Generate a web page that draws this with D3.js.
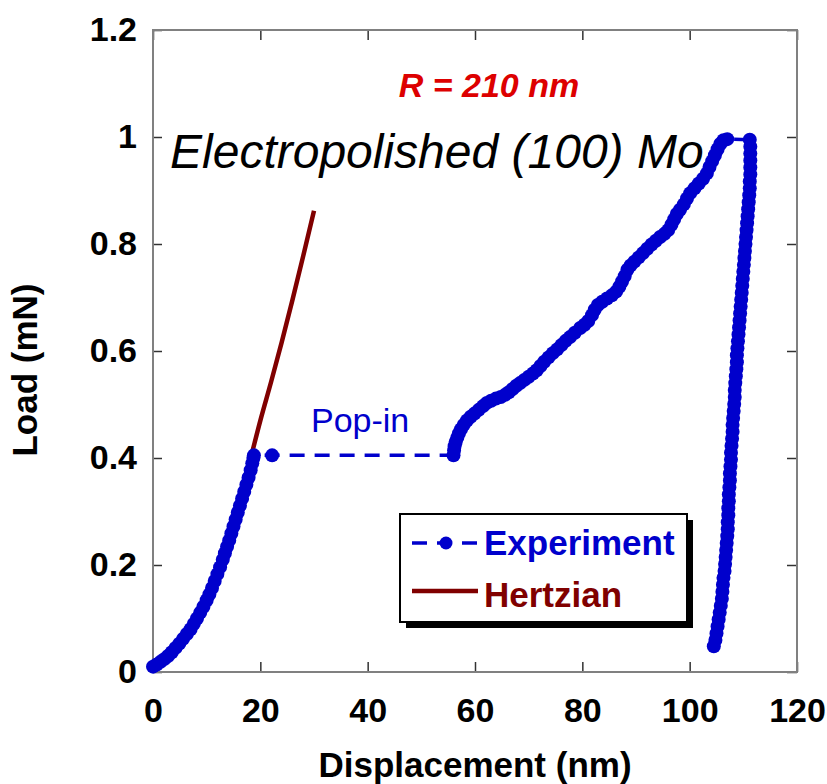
<!DOCTYPE html>
<html>
<head>
<meta charset="utf-8">
<script src="https://cdn.jsdelivr.net/npm/d3@7"></script>
<style>
  body { margin: 0; background: #fff; }
  text { font-family: "Liberation Sans", Arial, sans-serif; }
</style>
</head>
<body>
<div id="chart"></div>
<script>
// Experiment: loading, pop-in, loading, hold, unloading (nm, mN)
var expDisp = [
  0, 0.7, 1.4, 2.1, 2.8, 3.5, 4.2, 4.9, 5.6, 6.3, 7.0, 7.6, 8.2, 8.8, 9.4, 10.0, 10.5, 11.0, 11.5, 12.0,
  12.5, 13.0, 13.4, 13.8, 14.2, 14.6, 15.0, 15.4, 15.8, 16.2, 16.6, 17.0, 17.4, 17.8, 18.2, 18.5, 18.7, 18.8,
  22.2,
  56.0, 56.1, 56.2, 56.4, 56.7, 57.0, 57.4, 57.9, 58.5, 59.2, 59.9, 60.7, 61.5, 62.2, 63.0, 63.9, 64.8, 65.6,
  66.3, 67.0, 67.7, 68.4, 69.2, 70.0, 70.8, 71.5, 72.2, 72.9, 73.7, 74.5, 75.3, 76.1, 76.9, 77.7, 78.6, 79.6,
  80.4, 81.1, 81.8, 82.3, 82.9, 83.7, 84.6, 85.5, 86.3, 86.9, 87.4, 87.9, 88.4, 89.0, 89.7, 90.5, 91.3, 92.1,
  92.9, 93.7, 94.5, 95.3, 96.0, 96.6, 97.1, 97.6, 98.2, 98.9, 99.5, 100.1, 100.9, 101.7, 102.5, 103.2, 103.7,
  104.2, 104.7, 105.2, 105.7, 106.3, 107.0,
  111.2,
  111.3, 111.3, 111.3, 111.3, 111.3, 111.2, 111.2, 111.1, 111.0, 110.9, 110.8, 110.7, 110.6, 110.5, 110.4,
  110.3, 110.2, 110.1, 110.0, 109.9, 109.8, 109.7, 109.6, 109.5, 109.4, 109.3, 109.2, 109.1, 109.0, 108.9,
  108.8, 108.8, 108.7, 108.6, 108.5, 108.4, 108.4, 108.3, 108.2, 108.1, 108.0, 108.0, 107.9, 107.8, 107.7,
  107.7, 107.6, 107.5, 107.5, 107.4, 107.3, 107.3, 107.2, 107.2, 107.1, 107.1, 107.0, 106.9, 106.8, 106.7,
  106.6, 106.5, 106.3, 106.2, 106.1, 106.0, 105.8, 105.6, 105.4, 105.2, 105.0, 104.8, 104.5
];
var expLoad = [
  0.010, 0.014, 0.019, 0.024, 0.030, 0.037, 0.045, 0.053, 0.062, 0.071, 0.080, 0.090, 0.100, 0.111, 0.122,
  0.134, 0.145, 0.157, 0.170, 0.183, 0.196, 0.210, 0.222, 0.234, 0.246, 0.259, 0.272, 0.285, 0.298, 0.311,
  0.324, 0.337, 0.350, 0.363, 0.377, 0.390, 0.400, 0.405,
  0.405,
  0.405, 0.414, 0.422, 0.430, 0.438, 0.446, 0.454, 0.462, 0.470, 0.477, 0.483, 0.490, 0.497, 0.503, 0.507,
  0.511, 0.514, 0.518, 0.523, 0.529, 0.535, 0.540, 0.546, 0.552, 0.558, 0.564, 0.572, 0.580, 0.588, 0.596,
  0.603, 0.611, 0.619, 0.626, 0.634, 0.643, 0.649, 0.656, 0.667, 0.677, 0.686, 0.692, 0.698, 0.704, 0.711,
  0.720, 0.730, 0.740, 0.752, 0.760, 0.767, 0.775, 0.783, 0.791, 0.799, 0.806, 0.813, 0.819, 0.826, 0.836,
  0.846, 0.856, 0.864, 0.874, 0.885, 0.895, 0.904, 0.913, 0.922, 0.932, 0.944, 0.955, 0.966, 0.977, 0.987,
  0.994, 0.996,
  0.995,
  0.982, 0.969, 0.956, 0.943, 0.930, 0.917, 0.904, 0.891, 0.878, 0.865, 0.852, 0.839, 0.826, 0.813, 0.800,
  0.787, 0.774, 0.761, 0.748, 0.735, 0.722, 0.709, 0.696, 0.683, 0.670, 0.657, 0.644, 0.631, 0.618, 0.605,
  0.592, 0.579, 0.566, 0.553, 0.540, 0.527, 0.514, 0.501, 0.488, 0.475, 0.462, 0.449, 0.436, 0.423, 0.410,
  0.397, 0.384, 0.371, 0.358, 0.345, 0.332, 0.319, 0.306, 0.293, 0.280, 0.267, 0.254, 0.241, 0.228, 0.215,
  0.202, 0.189, 0.176, 0.163, 0.150, 0.137, 0.124, 0.111, 0.098, 0.085, 0.072, 0.060, 0.048
];

// Hertzian fit (visible part above the loading data)
var hertzDisp = [14, 16, 18, 20, 22, 24, 26, 28, 30];
var hertzLoad = [0.250, 0.318, 0.392, 0.470, 0.542, 0.617, 0.696, 0.778, 0.862];

// Tick labels
var xTicks = [0, 20, 40, 60, 80, 100, 120];
var yTicks = [0, 0.2, 0.4, 0.6, 0.8, 1, 1.2];

var blue = "#0000cc", brown = "#800000", red = "#dd0000", axisGray = "#808080";

var margin = {top: 30, right: 30, bottom: 112, left: 153},
    width = 827 - margin.left - margin.right,
    height = 784 - margin.top - margin.bottom;

var svg = d3.select("#chart")
    .append("svg")
    .attr("width", 827)
    .attr("height", 784);

var g = svg.append("g")
    .attr("transform", "translate(" + margin.left + "," + margin.top + ")");

var x = d3.scaleLinear().domain([0, 120]).range([0, width]);
var y = d3.scaleLinear().domain([0, 1.2]).range([height, 0]);

var fmt = function(d) { return d3.format("~g")(d); };

// Axes with inward ticks
var xAxis = g.append("g")
    .attr("transform", "translate(0," + height + ")")
    .call(d3.axisBottom(x).tickValues(xTicks).tickSize(-10).tickPadding(26).tickFormat(fmt));
var yAxis = g.append("g")
    .call(d3.axisLeft(y).tickValues(yTicks).tickSize(-9).tickPadding(16).tickFormat(fmt));
var topAxis = g.append("g")
    .call(d3.axisTop(x).tickValues(xTicks).tickSize(-10).tickFormat(""));
var rightAxis = g.append("g")
    .attr("transform", "translate(" + width + ",0)")
    .call(d3.axisRight(y).tickValues(yTicks).tickSize(-10).tickFormat(""));

[xAxis, yAxis, topAxis, rightAxis].forEach(function(a) {
    a.select(".domain").remove();
    a.selectAll(".tick line").attr("stroke", "#333").attr("stroke-width", 1.5);
    a.selectAll(".tick text")
        .attr("fill", "#000")
        .style("font-size", "34px")
        .style("font-weight", "bold");
});

// Frame
g.append("rect")
    .attr("width", width)
    .attr("height", height)
    .attr("fill", "none")
    .attr("stroke", axisGray)
    .attr("stroke-width", 2);

// Axis titles
svg.append("text")
    .attr("x", margin.left + width / 2)
    .attr("y", 777)
    .attr("text-anchor", "middle")
    .style("font-size", "35px")
    .style("font-weight", "bold")
    .text("Displacement (nm)");

svg.append("text")
    .attr("transform", "translate(37," + 370 + ") rotate(-90)")
    .attr("text-anchor", "middle")
    .style("font-size", "35px")
    .style("font-weight", "bold")
    .text("Load (mN)");

var hertz = hertzDisp.map(function(d, i) { return [d, hertzLoad[i]]; });
var exp = expDisp.map(function(d, i) { return [d, expLoad[i]]; });

var line = d3.line()
    .x(function(d) { return x(d[0]); })
    .y(function(d) { return y(d[1]); });

// Hertzian curve
g.append("path")
    .datum(hertz)
    .attr("d", line.curve(d3.curveMonotoneX))
    .attr("fill", "none")
    .attr("stroke", brown)
    .attr("stroke-width", 4.5);

// Experiment: dashed line + dots
g.append("path")
    .datum(exp)
    .attr("d", line.curve(d3.curveLinear))
    .attr("fill", "none")
    .attr("stroke", blue)
    .attr("stroke-width", 3.5)
    .attr("stroke-dasharray", "15,10");

g.selectAll(".dot")
    .data(exp)
    .enter()
    .append("circle")
    .attr("class", "dot")
    .attr("cx", function(d) { return x(d[0]); })
    .attr("cy", function(d) { return y(d[1]); })
    .attr("r", 7)
    .attr("fill", blue);

// Annotations
svg.append("text")
    .attr("x", 489)
    .attr("y", 97)
    .attr("text-anchor", "middle")
    .attr("fill", red)
    .style("font-size", "34px")
    .style("font-weight", "bold")
    .style("font-style", "italic")
    .text("R = 210 nm");

svg.append("text")
    .attr("x", 170)
    .attr("y", 168)
    .attr("fill", "#000")
    .style("font-size", "48px")
    .style("font-style", "italic")
    .text("Electropolished (100) Mo");

svg.append("text")
    .attr("x", 311)
    .attr("y", 432)
    .attr("fill", blue)
    .style("font-size", "34px")
    .text("Pop-in");

// Legend
var legend = svg.append("g");
legend.append("rect")
    .attr("x", 406).attr("y", 520)
    .attr("width", 287).attr("height", 108)
    .attr("fill", "#000");
legend.append("rect")
    .attr("x", 400).attr("y", 514)
    .attr("width", 287).attr("height", 108)
    .attr("fill", "#fff")
    .attr("stroke", "#000")
    .attr("stroke-width", 2);

legend.append("line")
    .attr("x1", 412).attr("x2", 478)
    .attr("y1", 543).attr("y2", 543)
    .attr("stroke", blue)
    .attr("stroke-width", 3.5)
    .attr("stroke-dasharray", "15,10");
legend.append("circle")
    .attr("cx", 446).attr("cy", 543)
    .attr("r", 6.5)
    .attr("fill", blue);
legend.append("text")
    .attr("x", 484).attr("y", 555)
    .attr("fill", blue)
    .style("font-size", "35px")
    .style("font-weight", "bold")
    .text("Experiment");

legend.append("line")
    .attr("x1", 412).attr("x2", 478)
    .attr("y1", 591).attr("y2", 591)
    .attr("stroke", brown)
    .attr("stroke-width", 4.5);
legend.append("text")
    .attr("x", 484).attr("y", 607)
    .attr("fill", brown)
    .style("font-size", "35px")
    .style("font-weight", "bold")
    .text("Hertzian");
</script>
</body>
</html>
